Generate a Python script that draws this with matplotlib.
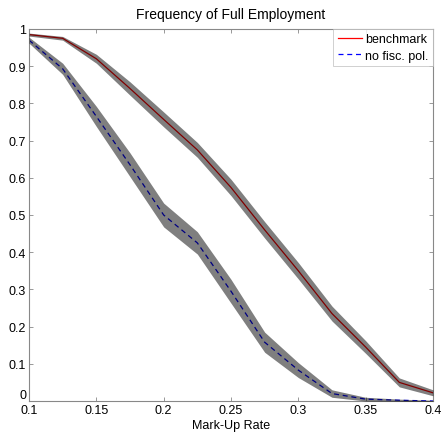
import numpy as np
import matplotlib
matplotlib.use("Agg")
import matplotlib.pyplot as plt

plt.rcParams['font.family'] = ['Liberation Sans', 'DejaVu Sans']

# データ
markup = [0.1, 0.125, 0.15, 0.175, 0.2, 0.225, 0.25, 0.275, 0.3, 0.325, 0.35, 0.375, 0.4]
benchmark = [0.985, 0.975, 0.92, 0.84, 0.757, 0.675, 0.574, 0.46, 0.35, 0.235, 0.145, 0.05, 0.022]
bench_hw = [0.004, 0.005, 0.012, 0.018, 0.02, 0.02, 0.022, 0.022, 0.022, 0.02, 0.017, 0.012, 0.008]
no_fisc = [0.97, 0.893, 0.765, 0.635, 0.50, 0.425, 0.295, 0.158, 0.083, 0.02, 0.005, 0.002, 0.0]
no_fisc_hw = [0.008, 0.015, 0.027, 0.032, 0.032, 0.03, 0.032, 0.027, 0.02, 0.01, 0.005, 0.003, 0.002]

x = np.array(markup)
b = np.array(benchmark)
n = np.array(no_fisc)
bh = np.array(bench_hw)
nh = np.array(no_fisc_hw)

fig = plt.figure(figsize=(4.42, 4.35), dpi=100)
ax = fig.add_axes([29 / 442, 1 - 402 / 435, 404 / 442, 372 / 435])

ax.plot(x, b, color='red', lw=0.9, label='benchmark', zorder=2)
ax.plot(x, n, color='blue', lw=0.9, dashes=(4, 3), label='no fisc. pol.', zorder=2)

# 信頼帯（黒・半透明で線の上に重ねる）
ax.fill_between(x, b - bh, b + bh, color='k', alpha=0.5, lw=0, zorder=3)
ax.fill_between(x, n - nh, n + nh, color='k', alpha=0.5, lw=0, zorder=3)

ax.set_xlim(0.1, 0.4)
ax.set_ylim(0, 1)
ax.set_xticks([0.1, 0.15, 0.2, 0.25, 0.3, 0.35, 0.4])
ax.set_xticklabels(['0.1', '0.15', '0.2', '0.25', '0.3', '0.35', '0.4'])
ax.set_yticks(np.arange(0, 1.01, 0.1))
ax.set_yticklabels(['0', '0.1', '0.2', '0.3', '0.4', '0.5', '0.6', '0.7', '0.8', '0.9', '1'])
ax.tick_params(direction='in', length=3, width=0.6, color='#888888',
               top=True, right=True, labelsize=9, pad=2)
# MATLAB風に「0」を少し上へ
ax.get_yticklabels()[0].set_va('bottom')
for s in ax.spines.values():
    s.set_color('#888888')
    s.set_linewidth(0.8)

ax.set_title('Frequency of Full Employment', fontsize=10, pad=8)
ax.set_xlabel('Mark-Up Rate', fontsize=9, labelpad=2)

leg = ax.legend(loc='upper right', fontsize=9, frameon=True, fancybox=False,
                borderaxespad=0.0, handlelength=1.9, handletextpad=0.3,
                borderpad=0.35, labelspacing=0.35)
leg.get_frame().set_edgecolor('#bbbbbb')
leg.get_frame().set_linewidth(0.6)

fig.savefig('out.png', dpi=100, facecolor='white')
